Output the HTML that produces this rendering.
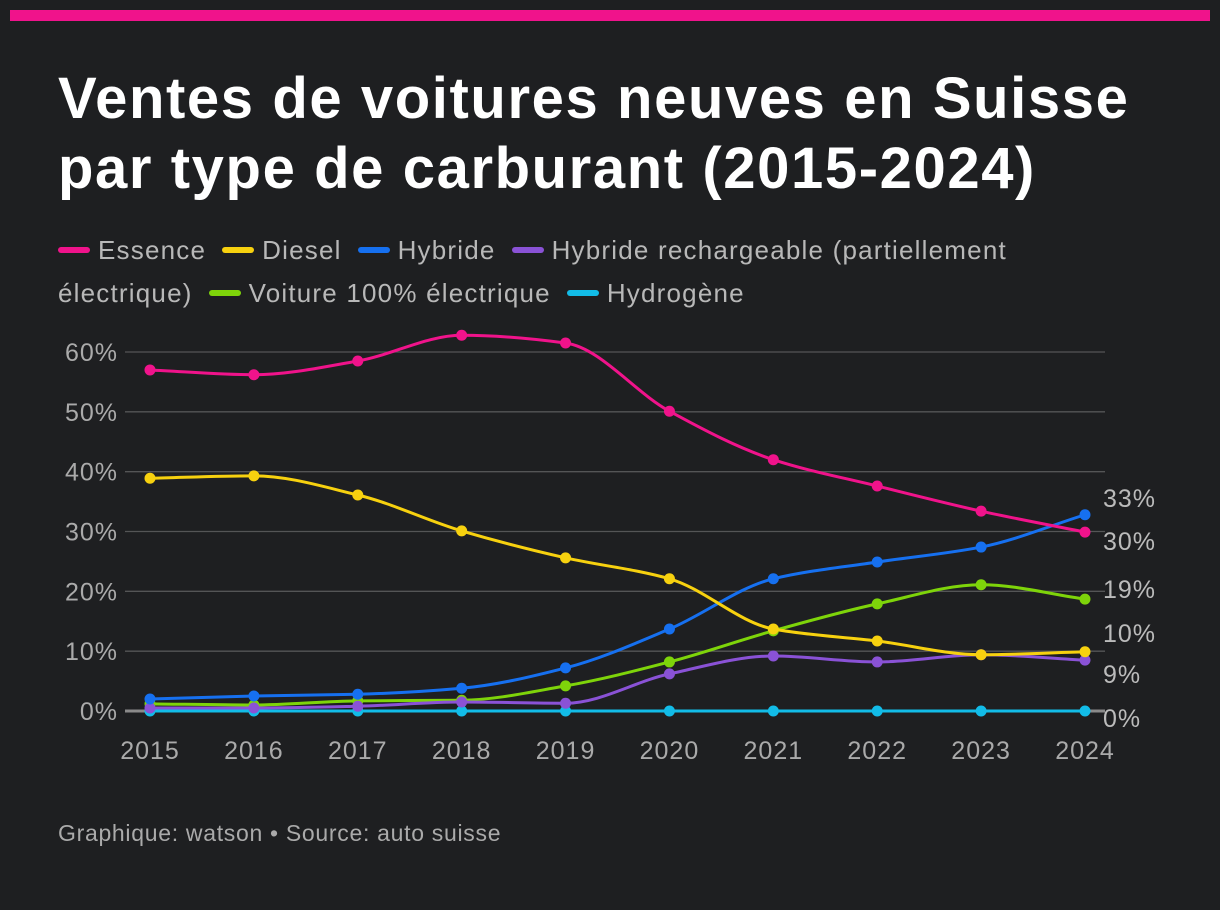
<!DOCTYPE html>
<html><head><meta charset="utf-8">
<style>
html,body{margin:0;padding:0;background:#1e1f21;}
body{width:1220px;height:910px;position:relative;overflow:hidden;font-family:"Liberation Sans",sans-serif;}
#bar{position:absolute;left:10px;top:10px;width:1200px;height:11px;background:#f0138b;}
#title{position:absolute;left:58px;top:64px;color:#fff;font-weight:bold;font-size:58px;line-height:70px;letter-spacing:1.6px;margin:0;white-space:nowrap;}
#legend{position:absolute;left:58px;top:229px;width:1140px;color:#b8b8b8;font-size:26px;line-height:43px;letter-spacing:1.2px;}
.li{white-space:nowrap;margin-right:16px;}
.sw{display:inline-block;width:32px;height:6px;border-radius:3px;vertical-align:middle;margin-right:8px;position:relative;top:-2px;}
#footer{position:absolute;left:58px;top:820px;color:#aaa;font-size:23px;letter-spacing:0.7px;}
svg{position:absolute;left:0;top:0;}
</style></head><body>
<div id="bar"></div>
<h1 id="title">Ventes de voitures neuves en Suisse<br>par type de carburant (2015-2024)</h1>
<div id="legend">
<span class="li"><span class="sw" style="background:#f0138b"></span>Essence</span><span class="li"><span class="sw" style="background:#f7d10f"></span>Diesel</span><span class="li"><span class="sw" style="background:#1670f0"></span>Hybride</span><span class="li"><span class="sw" style="background:#8a52d6"></span>Hybride rechargeable (partiellement<br>électrique)</span><span class="li"><span class="sw" style="background:#7ed40a"></span>Voiture 100% électrique</span><span class="li"><span class="sw" style="background:#12bce8"></span>Hydrogène</span>
</div>
<svg id="chart" width="1220" height="910"></svg>
<div id="footer">Graphique: watson • Source: auto suisse</div>
<script>
const years=[2015,2016,2017,2018,2019,2020,2021,2022,2023,2024];
const essence=[57.0,56.2,58.5,62.8,61.5,50.1,42.0,37.6,33.4,29.9];
const diesel=[38.9,39.3,36.1,30.1,25.6,22.1,13.7,11.7,9.4,9.9];
const hybride=[2.0,2.5,2.8,3.8,7.2,13.7,22.1,24.9,27.4,32.8];
const phev=[0.5,0.5,0.8,1.5,1.3,6.2,9.2,8.2,9.4,8.5];
const bev=[1.2,1.0,1.7,1.8,4.2,8.2,13.4,17.9,21.1,18.7];
const hydrogen=[0,0,0,0,0,0,0,0,0,0];
const yTicks=[0,10,20,30,40,50,60];
const endLabels=["33%","30%","19%","10%","9%","0%"];
const endLabelY=[498,541,589,633,674,718];
const NS="http://www.w3.org/2000/svg";
const svg=document.getElementById('chart');
const x=i=>150+(1085-150)*i/(years.length-1);
const y=v=>711-v*(711-352)/60;
function mk(t,a){const e=document.createElementNS(NS,t);for(const k in a)e.setAttribute(k,a[k]);svg.appendChild(e);return e;}
yTicks.forEach(t=>{
 const l=mk('line',{x1:125,x2:1105,y1:y(t),y2:y(t),stroke:t===0?'#8a8a8a':'#545556','stroke-width':t===0?3:1.3});
 
 
 const tx=mk('text',{x:118,y:y(t)+9,'text-anchor':'end',fill:'#aaa','font-size':25,'letter-spacing':1,'font-family':'Liberation Sans, sans-serif'});
 tx.textContent=t+'%';
 
 
});
years.forEach((yr,i)=>{
 const tx=mk('text',{x:x(i),y:759,'text-anchor':'middle',fill:'#aaa','font-size':25,'letter-spacing':1,'font-family':'Liberation Sans, sans-serif'});
 tx.textContent=yr;
 
 
});
function path(vals){
 const n=vals.length,px=vals.map((v,i)=>x(i)),py=vals.map(v=>y(v));
 const d=[],m=[];
 for(let i=0;i<n-1;i++)d.push((py[i+1]-py[i])/(px[i+1]-px[i]));
 m[0]=d[0];m[n-1]=d[n-2];
 for(let i=1;i<n-1;i++)m[i]=(d[i-1]*d[i]<=0)?0:2/(1/d[i-1]+1/d[i]);
 let s='M'+px[0]+','+py[0];
 for(let i=0;i<n-1;i++){const h=(px[i+1]-px[i])/3;
  s+=' C'+(px[i]+h)+','+(py[i]+m[i]*h)+' '+(px[i+1]-h)+','+(py[i+1]-m[i+1]*h)+' '+px[i+1]+','+py[i+1];}
 return s;
}
const series=[['hydrogene',hydrogen,'#12bce8'],['electrique',bev,'#7ed40a'],['hybride-rechargeable',phev,'#8a52d6'],['hybride',hybride,'#1670f0'],['diesel',diesel,'#f7d10f'],['essence',essence,'#f0138b']];
series.forEach(([nm,vals,c])=>{
 const p=mk('path',{d:path(vals),fill:'none',stroke:c,'stroke-width':3});
 
 
 vals.forEach((v,i)=>{
  const ci=mk('circle',{cx:x(i),cy:y(v),r:5.5,fill:c});
  
  
 });
});
endLabels.forEach((t,i)=>{
 const tx=mk('text',{x:1103,y:endLabelY[i]+9,fill:'#bbb','font-size':25,'letter-spacing':1,'font-family':'Liberation Sans, sans-serif'});
 tx.textContent=t;
 
 
});
</script>
</body></html>
